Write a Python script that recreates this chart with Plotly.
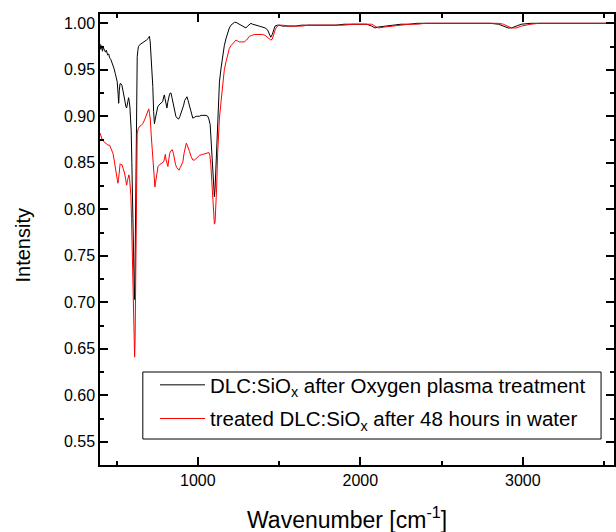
import plotly.graph_objects as go

# ---- data ----
black_w = [398,403,408,413,418,425,432,437,445,452,457,465,472,478,485,492,498,504,509,513,517,521,527,533,540,545,552,558,562,567,571,574,578,582,586,590,594,598,602,606,610,613,616,620,624,627,631,635,643,651,661,672,684,696,702,707,712,718,723,728,733,738,743,748,753,760,770,778,784,790,794,798,802,806,810,815,820,825,830,835,841,846,851,858,865,873,882,890,898,906,913,919,926,933,940,949,958,969,980,990,1000,1010,1020,1031,1040,1050,1061,1068,1076,1082,1088,1094,1098,1102,1106,1110,1115,1120,1126,1133,1143,1153,1163,1174,1184,1194,1204,1214,1225,1235,1245,1255,1266,1276,1286,1296,1306,1317,1327,1337,1348,1358,1378,1398,1414,1429,1440,1449,1458,1466,1475,1490,1500,1520,1560,1600,1640,1680,1720,1760,1800,1850,1900,1950,2000,2040,2070,2090,2110,2150,2200,2250,2300,2350,2400,2450,2500,2550,2600,2650,2700,2750,2800,2850,2880,2910,2930,2960,2990,3050,3100,3150,3200,3300,3400,3500,3561]
black_v = [0.978,0.972,0.976,0.970,0.974,0.972,0.969,0.971,0.966,0.967,0.963,0.961,0.958,0.956,0.951,0.946,0.941,0.937,0.925,0.914,0.928,0.935,0.935,0.933,0.927,0.921,0.914,0.910,0.909,0.914,0.919,0.920,0.916,0.910,0.897,0.885,0.850,0.800,0.750,0.715,0.703,0.725,0.780,0.880,0.940,0.964,0.971,0.975,0.977,0.978,0.979,0.980,0.982,0.984,0.986,0.980,0.968,0.950,0.932,0.905,0.892,0.897,0.903,0.908,0.910,0.912,0.914,0.915,0.916,0.921,0.923,0.919,0.914,0.910,0.909,0.915,0.921,0.923,0.925,0.925,0.920,0.915,0.910,0.905,0.900,0.898,0.897,0.900,0.904,0.907,0.912,0.917,0.920,0.921,0.917,0.910,0.903,0.898,0.899,0.900,0.900,0.900,0.901,0.901,0.901,0.901,0.900,0.897,0.891,0.875,0.855,0.832,0.820,0.8135,0.822,0.840,0.870,0.895,0.918,0.937,0.952,0.966,0.976,0.984,0.990,0.995,0.998,1.000,1.001,1.001,1.000,0.999,0.998,0.997,0.996,0.995,0.997,0.999,1.000,0.999,0.998,0.998,0.997,0.996,0.995,0.993,0.988,0.985,0.988,0.993,0.997,0.998,0.998,0.997,0.997,0.997,0.998,0.998,0.998,0.998,0.998,0.998,0.999,0.999,0.999,0.999,0.997,0.995,0.996,0.997,0.998,0.999,0.999,1.000,1.000,1.000,1.000,1.000,1.000,1.000,1.000,1.000,1.000,0.999,0.997,0.995,0.995,0.997,0.999,1.000,1.000,1.000,1.000,1.000,1.000,1.000,1.000]

red_w = [398,403,408,413,420,428,437,447,457,465,472,478,485,492,498,504,508,512,517,522,527,533,540,549,556,562,567,572,576,580,584,588,592,596,600,604,608,611,614,617,620,623,627,634,641,651,661,672,682,690,698,703,708,713,718,723,728,733,736,740,745,750,755,765,776,784,790,795,800,805,811,816,821,827,835,843,850,857,863,870,877,884,892,900,908,915,922,929,935,942,949,958,969,980,990,1000,1010,1030,1050,1061,1068,1074,1080,1086,1092,1098,1102,1106,1110,1116,1122,1129,1133,1143,1153,1163,1174,1184,1194,1204,1214,1225,1235,1245,1255,1270,1286,1300,1317,1332,1347,1370,1398,1414,1429,1440,1449,1458,1468,1478,1490,1500,1520,1560,1600,1640,1680,1720,1760,1800,1850,1900,1950,2000,2040,2070,2090,2110,2150,2200,2250,2300,2350,2400,2450,2500,2550,2600,2650,2700,2750,2800,2850,2880,2910,2930,2960,2990,3050,3100,3150,3200,3300,3400,3500,3561]
red_v = [0.882,0.879,0.876,0.874,0.873,0.872,0.871,0.869,0.869,0.866,0.862,0.860,0.853,0.846,0.838,0.830,0.828,0.832,0.845,0.849,0.848,0.848,0.844,0.839,0.832,0.826,0.831,0.836,0.837,0.833,0.826,0.815,0.790,0.750,0.710,0.670,0.645,0.641,0.660,0.710,0.790,0.850,0.882,0.887,0.889,0.890,0.892,0.896,0.900,0.904,0.908,0.903,0.896,0.880,0.865,0.850,0.835,0.826,0.824,0.829,0.835,0.841,0.846,0.848,0.849,0.850,0.851,0.855,0.859,0.853,0.848,0.846,0.853,0.860,0.863,0.864,0.860,0.853,0.848,0.845,0.843,0.842,0.845,0.848,0.851,0.860,0.867,0.871,0.869,0.866,0.862,0.857,0.853,0.853,0.855,0.857,0.858,0.859,0.860,0.861,0.861,0.858,0.848,0.830,0.810,0.790,0.784,0.786,0.800,0.824,0.860,0.890,0.898,0.916,0.937,0.950,0.959,0.967,0.973,0.976,0.978,0.980,0.982,0.981,0.980,0.980,0.980,0.982,0.986,0.987,0.988,0.988,0.988,0.987,0.985,0.983,0.982,0.983,0.988,0.994,0.997,0.998,0.998,0.997,0.997,0.997,0.998,0.998,0.998,0.998,0.998,0.998,0.999,0.999,0.999,0.999,0.997,0.995,0.996,0.997,0.998,0.999,0.999,1.000,1.000,1.000,1.000,1.000,1.000,1.000,1.000,1.000,1.000,0.999,0.997,0.995,0.995,0.997,0.999,1.000,1.000,1.000,1.000,1.000,1.000,1.000,1.000]

names = ["DLC:SiO<sub>x</sub> after Oxygen plasma treatment",
         "treated DLC:SiO<sub>x</sub> after 48 hours in water"]

FONT = "Arial, Liberation Sans, sans-serif"

fig = go.Figure()
fig.add_trace(go.Scatter(x=black_w, y=black_v, mode="lines", name=names[0],
                         legendgroup="a", line=dict(color="#000000", width=1)))
fig.add_trace(go.Scatter(x=red_w, y=red_v, mode="lines", name=names[1],
                         legendgroup="b", line=dict(color="#ff0000", width=1)))

axis_common = dict(showline=True, linecolor="black", linewidth=1.5, mirror="ticks",
                   ticks="inside", ticklen=8, tickwidth=1.5, tickcolor="black",
                   showgrid=False, zeroline=False,
                   tickfont=dict(family=FONT, size=16, color="black"))

fig.update_xaxes(range=[398, 3561], dtick=1000, tick0=0,
                 minor=dict(dtick=500, ticks="inside", ticklen=4, tickwidth=1.5, tickcolor="black"),
                 **axis_common)
fig.update_yaxes(range=[0.525, 1.01], dtick=0.05, tick0=0, tickformat=".2f",
                 minor=dict(dtick=0.025, ticks="inside", ticklen=4, tickwidth=1.5, tickcolor="black"),
                 **axis_common)

fig.update_layout(
    width=616, height=532,
    margin=dict(l=100, r=0, t=14, b=67),
    plot_bgcolor="white", paper_bgcolor="white",
    font=dict(family=FONT, color="black"),
    showlegend=True,
    legend=dict(x=0.107, y=0.2217, xanchor="left", yanchor="top",
                borderwidth=0, bgcolor="rgba(0,0,0,0)",
                font=dict(family=FONT, size=20.5, color="black"),
                itemwidth=45, tracegroupgap=4),
    shapes=[
        dict(type="rect", xref="paper", yref="paper",
             x0=0.0833, x1=0.9748, y0=0.0576, y1=0.2062,
             line=dict(color="black", width=1), fillcolor="white", layer="above"),
    ],
    annotations=[
        dict(text="Intensity", xref="paper", yref="paper", x=0, y=0.5,
             xshift=-78, yshift=-6, xanchor="center", yanchor="middle",
             textangle=-90, showarrow=False,
             font=dict(family=FONT, size=20, color="black")),
        dict(text="Wavenumber [cm<sup>-1</sup>]", xref="paper", yref="paper",
             x=0.4806, y=0, yshift=-53, xanchor="center", yanchor="middle",
             showarrow=False,
             font=dict(family=FONT, size=23, color="black")),
    ],
)

fig.write_html("out.html", config={"displayModeBar": False},
               post_script="document.body.style.margin='0';document.body.style.overflow='hidden';")
